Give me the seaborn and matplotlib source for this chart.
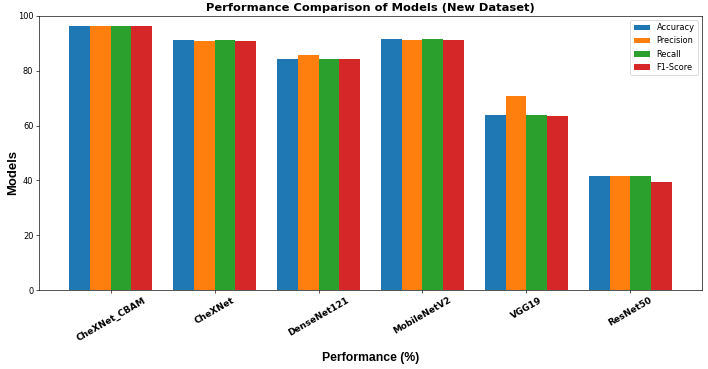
import matplotlib
matplotlib.use("Agg")
import matplotlib.pyplot as plt
import seaborn as sns
import pandas as pd

models = ["CheXNet_CBAM", "CheXNet", "DenseNet121", "MobileNetV2", "VGG19", "ResNet50"]
metrics = ["Accuracy", "Precision", "Recall", "F1-Score"]
accuracy = [96.4, 91.3, 84.2, 91.5, 63.9, 41.5]
precision = [96.4, 91.0, 85.8, 91.3, 70.7, 41.7]
recall = [96.4, 91.3, 84.2, 91.5, 63.9, 41.5]
f1_score = [96.4, 91.0, 84.4, 91.3, 63.5, 39.4]

series = {"Accuracy": accuracy, "Precision": precision, "Recall": recall, "F1-Score": f1_score}
rows = []
for m in metrics:
    for mod, v in zip(models, series[m]):
        rows.append({"Model": mod, "Metric": m, "Value": v})
df = pd.DataFrame(rows)

colors = ["#1f77b4", "#ff7f0e", "#2ca02c", "#d62728"]

fig = plt.figure(figsize=(12, 369 / 59), dpi=59)
ax = fig.add_axes([39 / 708, 1 - 290 / 369, (702 - 39) / 708, (290 - 16) / 369])
sns.barplot(data=df, x="Model", y="Value", hue="Metric", order=models, hue_order=metrics,
            palette=colors, saturation=1, width=0.8, errorbar=None, ax=ax)

ax.set_xlim(-0.69, 5.69)
ax.set_ylim(0, 100)
ax.set_title("Performance Comparison of Models (New Dataset)", fontsize=14, fontweight="bold")
ax.set_xlabel("Performance (%)", fontsize=15, fontweight="bold", family="Liberation Sans")
ax.set_ylabel("Models", fontsize=16, fontweight="bold", family="Liberation Sans")
ax.xaxis.set_label_coords(0.5, -0.225)
ax.yaxis.set_label_coords(-0.03, 0.43)
for lab in ax.get_xticklabels():
    lab.set_rotation(30)
    lab.set_fontweight("bold")
    lab.set_fontsize(11)
ax.tick_params(axis="y", labelsize=10)
handles, labels = ax.get_legend_handles_labels()
ax.legend(handles, labels, loc="upper right", fontsize=10)

fig.savefig("out.png", dpi=59)
